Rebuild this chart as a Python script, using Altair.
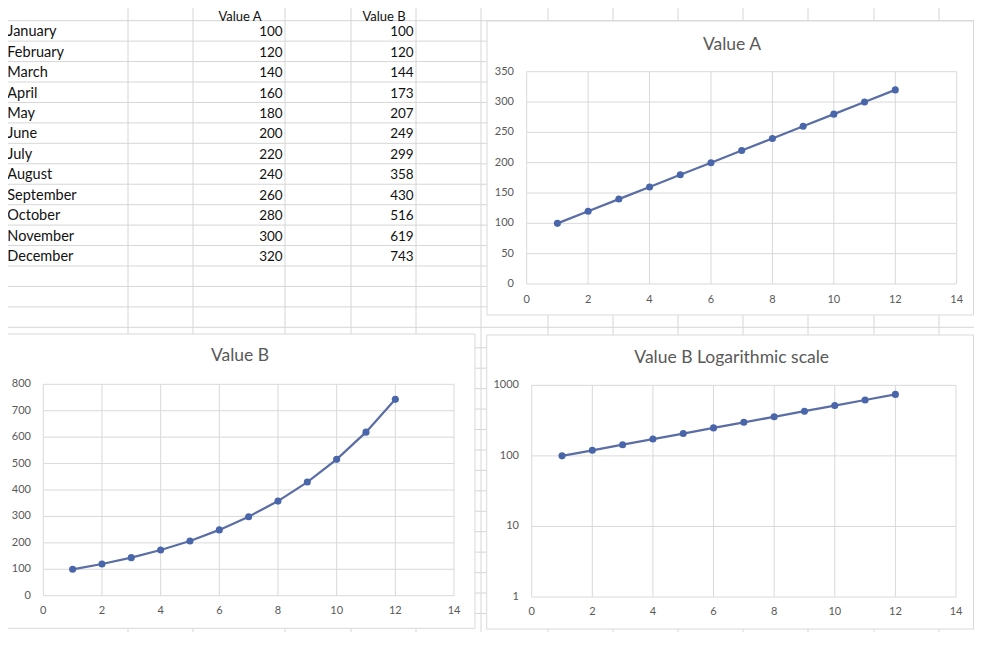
import altair as alt
import pandas as pd

# ---------------- data ----------------
months = ["January", "February", "March", "April", "May", "June", "July",
          "August", "September", "October", "November", "December"]
month_num = [1, 2, 3, 4, 5, 6, 7, 8, 9, 10, 11, 12]
value_a = [100, 120, 140, 160, 180, 200, 220, 240, 260, 280, 300, 320]
value_b = [100, 120, 144, 173, 207, 249, 299, 358, 430, 516, 619, 743]
headers = ["Value A", "Value B"]
titles = ["Value A", "Value B", "Value B Logarithmic scale"]
x_ticks = [0, 2, 4, 6, 8, 10, 12, 14]
ya_ticks = [0, 50, 100, 150, 200, 250, 300, 350]
yb_ticks = [0, 100, 200, 300, 400, 500, 600, 700, 800]
ylog_ticks = [1, 10, 100, 1000]

# ---------------- layout / style ----------------
W, H = 966, 624
M = 8  # page margin


def px(v):
    return v - M


FONT = "Lato"
GRID = "#d9d9d9"
SHEET = "#d6d6d6"
TXT = "#595959"
LINE = "#5a6ea5"
DOT = "#4a66aa"
COL_EDGES = [4, 128, 193, 285, 351, 416, 481, 548, 613, 678, 743, 808, 874, 939]
ROW0, ROW_H, N_ROWS = 0.26, 20.44, 32

# ---------------- spreadsheet background grid ----------------
sheet_x = alt.Scale(domain=[0, 982], range=[-M, 982 - M], nice=False, zero=False)
sheet_y = alt.Scale(domain=[0, 646], range=[-M, 646 - M], nice=False, zero=False)
vlines = alt.Chart(pd.DataFrame({"e": COL_EDGES})).mark_rule(
    color=SHEET, strokeWidth=1).encode(
    x=alt.X("e:Q", scale=sheet_x, axis=None), y=alt.value(0), y2=alt.value(H))
hlines = alt.Chart(pd.DataFrame({"e": [ROW0 + ROW_H * k for k in range(N_ROWS)]})).mark_rule(
    color=SHEET, strokeWidth=1).encode(
    y=alt.Y("e:Q", scale=sheet_y, axis=None), x=alt.value(0), x2=alt.value(W))

# ---------------- table ----------------
tbl_y = alt.Scale(type="point", domain=list(range(13)),
                  range=[px(ROW0), px(ROW0 + 13 * ROW_H)], padding=0.5)
df_t = pd.DataFrame({"row": list(range(1, 13)), "month": months, "a": value_a, "b": value_b})
tstyle = dict(font=FONT, color="#111111", baseline="middle", dy=1.3)
ty = alt.Y("row:O", scale=tbl_y, axis=None)
t_month = alt.Chart(df_t).mark_text(align="left", fontSize=14.5, **tstyle).encode(
    x=alt.value(px(7.3)), y=ty, text="month:N")
t_a = alt.Chart(df_t).mark_text(align="right", fontSize=13.5, **tstyle).encode(
    x=alt.value(px(282.7)), y=ty, text=alt.Text("a:Q", format="d"))
t_b = alt.Chart(df_t).mark_text(align="right", fontSize=13.5, **tstyle).encode(
    x=alt.value(px(413.7)), y=ty, text=alt.Text("b:Q", format="d"))
hstyle = dict(font=FONT, color="#111111", baseline="alphabetic", align="center", fontSize=13)
h_a = alt.Chart(pd.DataFrame({"h": [headers[0]]})).mark_text(**hstyle).encode(
    x=alt.value(px(240)), y=alt.value(13), text="h:N")
h_b = alt.Chart(pd.DataFrame({"h": [headers[1]]})).mark_text(**hstyle).encode(
    x=alt.value(px(384)), y=alt.value(13), text="h:N")
table = alt.layer(t_month, t_a, t_b, h_a, h_b)


# ---------------- chart panels ----------------
def panel(vals, ydomain, yticks, ytype, box, plot, title, title_xy, xlab_y, ylab_gap):
    bx0, by0, bx1, by1 = box
    l, t, r, b = plot
    df = pd.DataFrame({"m": month_num, "v": vals})
    xs = alt.Scale(domain=[0, 14], range=[px(l), px(r)], nice=False, zero=False)
    if ytype == "log":
        ys = alt.Scale(type="log", domain=ydomain, range=[px(b), px(t)], nice=False)
    else:
        ys = alt.Scale(domain=ydomain, range=[px(b), px(t)], nice=False, zero=False)
    lab = dict(font=FONT, fontSize=11, color=TXT, baseline="middle")
    box_l = alt.Chart(pd.DataFrame({"t": [title]})).mark_rect(
        fill="white", stroke="#d9d9d9", strokeWidth=1).encode(
        x=alt.value(px(bx0)), x2=alt.value(px(bx1)),
        y=alt.value(px(by0)), y2=alt.value(px(by1)))
    title_l = alt.Chart(pd.DataFrame({"t": [title]})).mark_text(
        font=FONT, fontSize=17.5, color=TXT, align="center", baseline="middle").encode(
        x=alt.value(px(title_xy[0])), y=alt.value(px(title_xy[1])), text="t:N")
    hgrid = alt.Chart(pd.DataFrame({"t": yticks})).mark_rule(color=GRID, strokeWidth=1).encode(
        y=alt.Y("t:Q", scale=ys, axis=None),
        x=alt.XDatum(0, axis=None), x2=alt.X2Datum(14))
    vgrid = alt.Chart(pd.DataFrame({"t": x_ticks})).mark_rule(color=GRID, strokeWidth=1).encode(
        x=alt.X("t:Q", scale=xs, axis=None),
        y=alt.YDatum(ydomain[0], axis=None), y2=alt.Y2Datum(ydomain[1]))
    ylab = alt.Chart(pd.DataFrame({"t": yticks})).mark_text(align="right", **lab).encode(
        y=alt.Y("t:Q", axis=None), x=alt.value(px(l) - ylab_gap),
        text=alt.Text("t:Q", format="d"))
    xlab = alt.Chart(pd.DataFrame({"t": x_ticks})).mark_text(align="center", **lab).encode(
        x=alt.X("t:Q", axis=None), y=alt.value(px(xlab_y)),
        text=alt.Text("t:Q", format="d"))
    line = alt.Chart(df).mark_line(color=LINE, strokeWidth=2.25).encode(
        x=alt.X("m:Q", scale=xs, axis=None),
        y=alt.Y("v:Q", scale=ys, axis=None))
    pts = alt.Chart(df).mark_circle(size=50, color=DOT, opacity=1).encode(
        x=alt.X("m:Q", axis=None), y=alt.Y("v:Q", axis=None))
    return alt.layer(box_l, title_l, hgrid, vgrid, ylab, xlab, line, pts)


panel_a = panel(value_a, [0, 350], ya_ticks, "linear",
                (487, 21, 973.5, 315), (526.7, 71.7, 956.7, 284),
                titles[0], (732, 45), 299.5, 12.7)
panel_b = panel(value_b, [0, 800], yb_ticks, "linear",
                (4.7, 334, 475, 628.3), (43.3, 384.3, 454, 595.7),
                titles[1], (240, 356), 611, 12.3)
panel_log = panel(value_b, [1, 1000], ylog_ticks, "log",
                  (486.7, 335, 973.5, 629), (531.7, 385.3, 956, 597),
                  titles[2], (731.7, 358.3), 611.7, 12.7)

chart = alt.layer(vlines, hlines, table, panel_a, panel_b, panel_log).resolve_scale(
    x="independent", y="independent").properties(
    width=W, height=H, padding=0,
    autosize=alt.AutoSizeParams(type="none")).configure_view(stroke=None)

chart.save("out.html", embed_options={"renderer": "svg", "actions": False})
